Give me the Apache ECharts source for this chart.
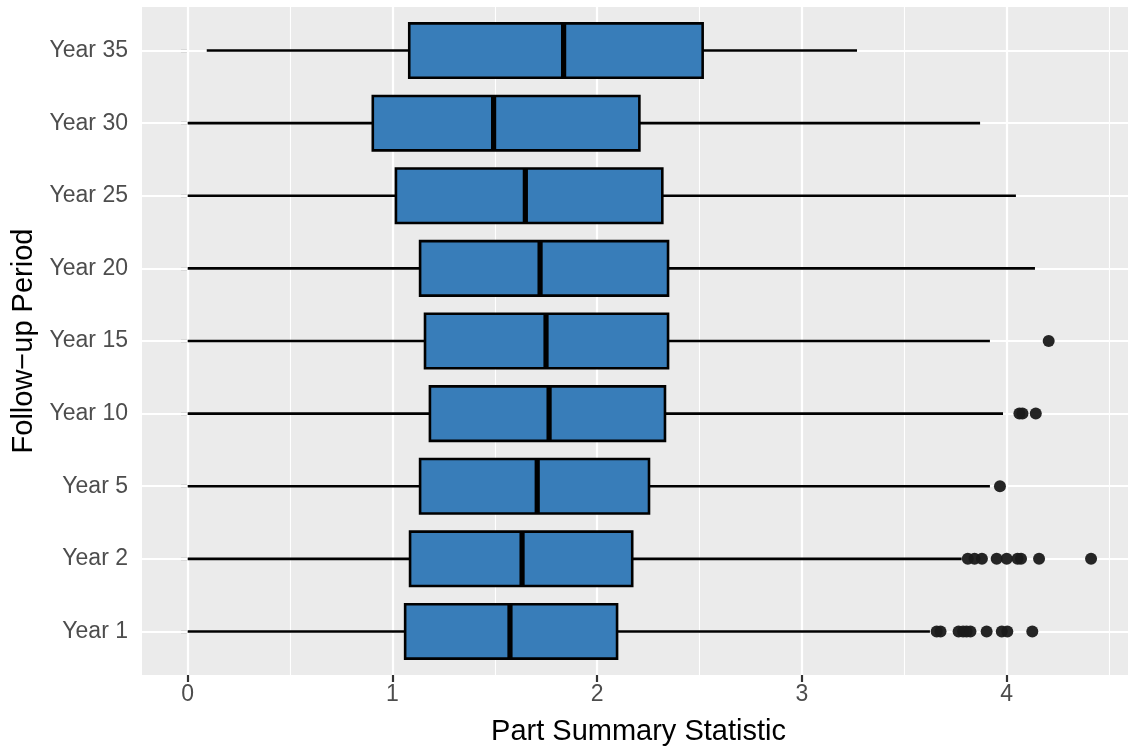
<!DOCTYPE html>
<html>
<head>
<meta charset="utf-8">
<title>Part Summary Statistic by Follow-up Period</title>
<script src="https://cdn.jsdelivr.net/npm/echarts@6/dist/echarts.min.js"></script>
<style>
  html, body { margin: 0; padding: 0; background: #ffffff; }
  #chart { width: 1128px; height: 746px; }
</style>
</head>
<body>
<div id="chart"></div>
<script>
// Follow-up periods, bottom to top
const categories = ['Year 1', 'Year 2', 'Year 5', 'Year 10', 'Year 15', 'Year 20', 'Year 25', 'Year 30', 'Year 35'];

// Five-number summaries per period
const lowerWhisker = [0.00, 0.00, 0.00, 0.00, 0.00, 0.00, 0.00, 0.00, 0.093];
const q1           = [1.062, 1.086, 1.135, 1.183, 1.159, 1.135, 1.017, 0.904, 1.082];
const median       = [1.574, 1.633, 1.707, 1.765, 1.750, 1.721, 1.649, 1.494, 1.836];
const q3           = [2.097, 2.171, 2.253, 2.331, 2.346, 2.346, 2.318, 2.206, 2.515];
const upperWhisker = [3.625, 3.780, 3.918, 3.982, 3.918, 4.138, 4.045, 3.870, 3.269];

// Points beyond the whiskers
const outliers = [
  [3.658, 3.677, 3.765, 3.787, 3.804, 3.823, 3.902, 3.976, 4.003, 4.125],
  [3.810, 3.843, 3.879, 3.951, 4.000, 4.053, 4.070, 4.158, 4.412],
  [3.967],
  [4.062, 4.077, 4.142],
  [4.205],
  [],
  [],
  [],
  []
];

// Axis tick values
const xTicks = [0, 1, 2, 3, 4];
const xMinorLines = [0.5, 1.5, 2.5, 3.5, 4.5];
const yTicks = categories.map((c, i) => i + 1);

const FONT = '"Liberation Sans", Arial, Helvetica, sans-serif';

const boxData = categories.map((c, i) => [i + 1, lowerWhisker[i], q1[i], median[i], q3[i], upperWhisker[i]]);
const outlierData = [];
outliers.forEach((arr, i) => arr.forEach(v => outlierData.push([v, i + 1])));

// Horizontal box: whiskers, filled box, heavy median bar
function renderBox(params, api) {
  const y = api.value(0);
  const lo = api.coord([api.value(1), y]);
  const a = api.coord([api.value(2), y]);
  const m = api.coord([api.value(3), y]);
  const b = api.coord([api.value(4), y]);
  const hi = api.coord([api.value(5), y]);
  const h = api.size([0, 1])[1] * 0.75;
  const lw = 2.6;
  return {
    type: 'group',
    children: [
      { type: 'line', shape: { x1: lo[0], y1: lo[1], x2: a[0], y2: a[1] }, style: { stroke: '#000', lineWidth: lw } },
      { type: 'line', shape: { x1: b[0], y1: b[1], x2: hi[0], y2: hi[1] }, style: { stroke: '#000', lineWidth: lw } },
      { type: 'rect', shape: { x: a[0], y: a[1] - h / 2, width: b[0] - a[0], height: h },
        style: { fill: '#387DB9', stroke: '#000', lineWidth: lw } },
      { type: 'line', shape: { x1: m[0], y1: m[1] - h / 2, x2: m[0], y2: m[1] + h / 2 },
        style: { stroke: '#000', lineWidth: lw * 2 } }
    ]
  };
}

const gridLines = []
  .concat(xMinorLines.map(v => ({ xAxis: v, lineStyle: { color: '#FFFFFF', width: 1.1, type: 'solid' } })))
  .concat(xTicks.map(v => ({ xAxis: v, lineStyle: { color: '#FFFFFF', width: 2.2, type: 'solid' } })))
  .concat(yTicks.map(v => ({ yAxis: v, lineStyle: { color: '#FFFFFF', width: 2.2, type: 'solid' } })));

const chart = echarts.init(document.getElementById('chart'), null, { renderer: 'canvas' });

chart.setOption({
  animation: false,
  backgroundColor: '#FFFFFF',
  textStyle: { fontFamily: FONT },
  grid: {
    left: 142, top: 7, width: 993, bottom: 71,
    containLabel: false,
    outerBoundsMode: 'none',
    show: true, backgroundColor: '#EBEBEB', borderWidth: 0
  },
  xAxis: {
    type: 'value',
    min: -0.2232,
    max: 4.6266,
    name: 'Part Summary Statistic',
    nameLocation: 'middle',
    nameGap: 42,
    nameTextStyle: { color: '#000000', fontSize: 29, fontFamily: FONT },
    axisLine: { show: false },
    axisTick: { show: true, length: 7, customValues: xTicks, lineStyle: { color: '#333333', width: 2.2 } },
    axisLabel: { show: true, customValues: xTicks, margin: 8, color: '#4D4D4D', fontSize: 23, fontFamily: FONT },
    splitLine: { show: false }
  },
  yAxis: {
    type: 'value',
    min: 0.4,
    max: 9.6,
    name: 'Follow−up Period',
    nameLocation: 'middle',
    nameRotate: 90,
    nameGap: 100,
    nameTextStyle: { color: '#000000', fontSize: 29, fontFamily: FONT },
    axisLine: { show: false },
    axisTick: { show: true, length: 7, customValues: yTicks, lineStyle: { color: '#333333', width: 2.2 } },
    axisLabel: {
      show: true, customValues: yTicks, margin: 14, color: '#4D4D4D', fontSize: 23, fontFamily: FONT,
      formatter: v => categories[Math.round(v) - 1] || ''
    },
    splitLine: { show: false }
  },
  series: [
    {
      name: 'grid',
      type: 'line',
      data: [],
      z: 1,
      silent: true,
      markLine: { z: 1, silent: true, symbol: ['none', 'none'], label: { show: false }, animation: false, data: gridLines }
    },
    {
      name: 'boxes',
      type: 'custom',
      z: 6,
      renderItem: renderBox,
      encode: { x: [1, 2, 3, 4, 5], y: 0 },
      data: boxData
    },
    {
      name: 'outliers',
      type: 'scatter',
      z: 7,
      symbol: 'circle',
      symbolSize: 12,
      itemStyle: { color: '#1A1A1A', opacity: 0.95 },
      data: outlierData
    }
  ]
});
</script>
</body>
</html>
